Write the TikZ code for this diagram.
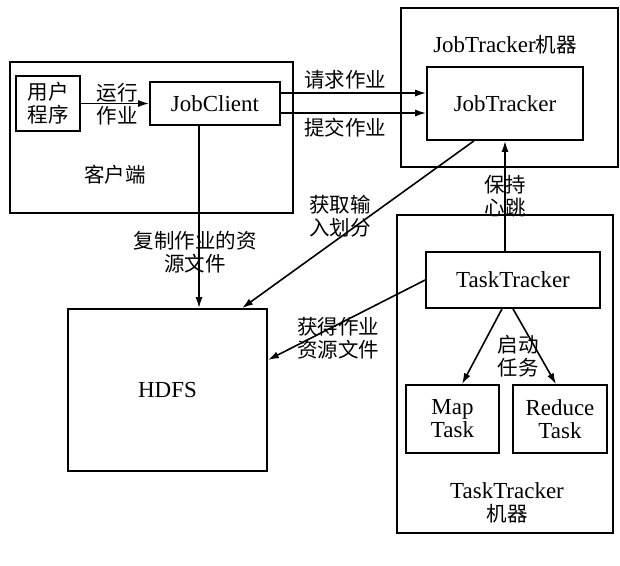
\documentclass[tikz,border=0pt]{standalone}
\usepackage{fontspec}
\setmainfont{Liberation Serif}[Scale=1.12]
\newfontfamily\cjk{Noto Sans CJK SC}
\usetikzlibrary{arrows.meta}
\begin{document}
\begin{tikzpicture}[x=1pt,y=-1pt,
  box/.style={draw,line width=1.7pt,inner sep=0pt,align=center},
  lbl/.style={inner sep=0pt,align=center,font=\fontsize{20.5}{23}\selectfont},
  arr/.style={line width=1.6pt,-{Latex[length=11pt,width=7pt]}},
  every node/.append style={font=\fontsize{20.5}{23}\selectfont}]
\useasboundingbox (0,0) rectangle (620,565);
% containers
\node[box,minimum width=283pt,minimum height=151pt] (client) at (151.5,137.5) {};
\node[box,minimum width=217pt,minimum height=159pt] (jtm) at (509.5,87.5) {};
\node[box,minimum width=216pt,minimum height=318pt] (ttm) at (505,374) {};
% inner boxes
\node[box,minimum width=64pt,minimum height=55pt] (user) at (48,103.5) {{\cjk 用户}\\{\cjk 程序}};
\node[box,minimum width=130pt,minimum height=43pt] (jc) at (215,103.5) {JobClient};
\node[box,minimum width=156pt,minimum height=73pt] (jt) at (505,103.5) {JobTracker};
\node[box,minimum width=174pt,minimum height=56pt] (tt) at (513,280) {TaskTracker};
\node[box,minimum width=93pt,minimum height=68pt] (map) at (452.5,419) {Map\\Task};
\node[box,minimum width=94pt,minimum height=68pt] (red) at (560,419) {Reduce\\Task};
\node[box,minimum width=199pt,minimum height=162pt] (hdfs) at (167.5,390) {HDFS};
% container labels
\node[lbl] (lclient) at (115,175) {\cjk 客户端};
\node[lbl] (ljtm) at (505,45) {JobTracker{\cjk 机器}};
\node[lbl] (lttm) at (507,503) {TaskTracker\\{\cjk 机器}};
% connectors
\draw[arr] (user.east) -- (jc.west);
\node[lbl] (lrun) at (117,104) {{\cjk 运行}\\{\cjk 作业}};
\draw[arr] ([yshift=10.5pt]jc.east) -- ([yshift=10.5pt]jc.east -| jt.west);
\draw[arr] ([yshift=-9.5pt]jc.east) -- ([yshift=-9.5pt]jc.east -| jt.west);
\node[lbl] (lreq) at (345,80) {\cjk 请求作业};
\node[lbl] (lsub) at (345,128) {\cjk 提交作业};
\draw[arr] ([xshift=-16pt]jc.south) -- ([xshift=-16pt]jc.south |- hdfs.north);
\node[lbl] (lcopy) at (195,252) {{\cjk 复制作业的资}\\{\cjk 源文件}};
\draw[arr] ([xshift=-31pt]jt.south) -- ([xshift=74.5pt]hdfs.north);
\node[lbl] (lsplit) at (340,216) {{\cjk 获取输}\\{\cjk 入划分}};
\draw[arr] (tt.north -| jt.south) -- (jt.south);
\node[lbl] (lheart) at (505,196) {{\cjk 保持}\\{\cjk 心跳}};
\draw[arr] (tt.west) -- ([yshift=30pt]hdfs.east);
\node[lbl] (lres) at (338,338) {{\cjk 获得作业}\\{\cjk 资源文件}};
\draw[arr] ([xshift=-11pt]tt.south) -- ([xshift=9.5pt]map.north);
\draw[arr] ([xshift=0pt]tt.south) -- ([xshift=-4pt]red.north);
\node[lbl] (lstart) at (518,356) {{\cjk 启动}\\{\cjk 任务}};
\end{tikzpicture}
\end{document}
